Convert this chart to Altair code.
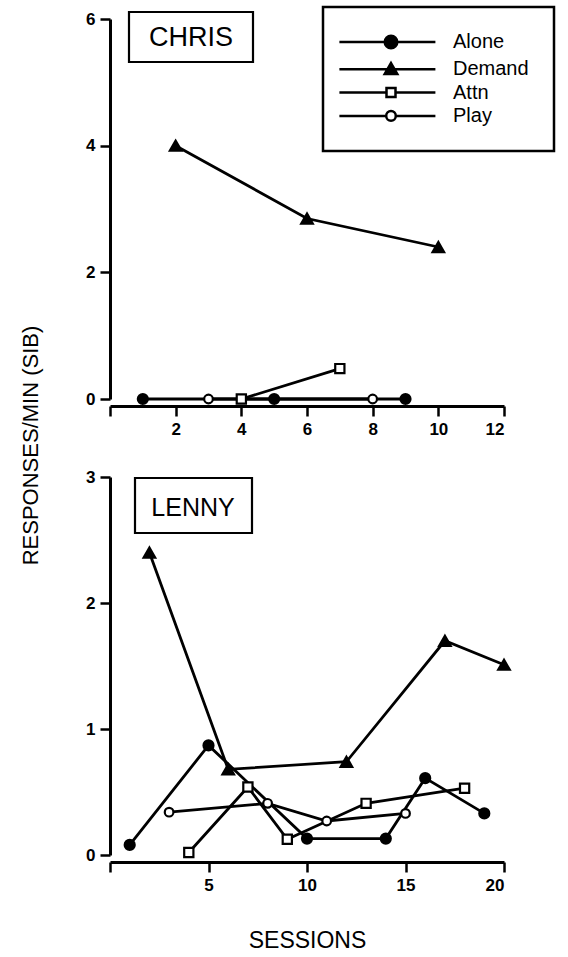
import altair as alt
import pandas as pd

# ---------------- data ----------------
series_names = ["Alone", "Demand", "Attn", "Play"]
participant_names = ["CHRIS", "LENNY"]

chris_alone_sessions = [1, 5, 9]
chris_alone_rates = [0.0, 0.0, 0.0]
chris_demand_sessions = [2, 6, 10]
chris_demand_rates = [4.0, 2.85, 2.4]
chris_attn_sessions = [4, 7]
chris_attn_rates = [0.0, 0.48]
chris_play_sessions = [3, 8]
chris_play_rates = [0.0, 0.0]

lenny_alone_sessions = [1, 5, 10, 14, 16, 19]
lenny_alone_rates = [0.08, 0.87, 0.13, 0.13, 0.61, 0.33]
lenny_demand_sessions = [2, 6, 12, 17, 20]
lenny_demand_rates = [2.4, 0.68, 0.74, 1.70, 1.51]
lenny_attn_sessions = [4, 7, 9, 13, 18]
lenny_attn_rates = [0.02, 0.54, 0.125, 0.41, 0.53]
lenny_play_sessions = [3, 8, 11, 15]
lenny_play_rates = [0.34, 0.41, 0.27, 0.33]

chris_x_ticks = [0, 2, 4, 6, 8, 10, 12]
chris_y_ticks = [0, 2, 4, 6]
lenny_x_ticks = [0, 5, 10, 15, 20]
lenny_y_ticks = [0, 1, 2, 3]

y_title = "RESPONSES/MIN (SIB)"
x_title = "SESSIONS"

# ---------------- styles ----------------
marker_style = {
    "Alone": dict(shape="circle", fill="black", size=100),
    "Demand": dict(shape="triangle-up", fill="black", size=135),
    "Attn": dict(shape="square", fill="white", size=85),
    "Play": dict(shape="circle", fill="white", size=75),
}
# legend symbols: horizontal line with the marker in the middle (unit = 6 px)
legend_paths = [
    "M-8.6,0H7.4M-1.05,0A1.05,1.05 0 1,0 1.05,0A1.05,1.05 0 1,0 -1.05,0Z",
    "M-8.6,0H7.4M0,-1.05L1.05,0.8L-1.05,0.8Z",
    "M-8.6,0H-0.75M0.75,0H7.4M-0.75,-0.75H0.75V0.75H-0.75Z",
    "M-8.6,0H-0.8M0.8,0H7.4M-0.8,0A0.8,0.8 0 1,0 0.8,0A0.8,0.8 0 1,0 -0.8,0Z",
]
legend_fills = ["black", "black", "white", "white"]
legend_strokes = ["black", "black", "black", "black"]


def long_frame(pairs):
    rows = []
    for name, (xs, ys) in zip(series_names, pairs):
        for x, y in zip(xs, ys):
            rows.append({"series": name, "session": x, "rate": y})
    return pd.DataFrame(rows)


chris_df = long_frame([
    (chris_alone_sessions, chris_alone_rates),
    (chris_demand_sessions, chris_demand_rates),
    (chris_attn_sessions, chris_attn_rates),
    (chris_play_sessions, chris_play_rates),
])
lenny_df = long_frame([
    (lenny_alone_sessions, lenny_alone_rates),
    (lenny_demand_sessions, lenny_demand_rates),
    (lenny_attn_sessions, lenny_attn_rates),
    (lenny_play_sessions, lenny_play_rates),
])

W = 394


def panel(df, name, xticks, yticks, height, box, text_xy, name_size, with_legend, bottom):
    xmax = xticks[-1]
    ymax = yticks[-1]
    x_axis = dict(
        values=xticks,
        labelExpr="datum.value == 0 ? '' : datum.label",
        offset=7,
        title=None,
    )
    y_axis = dict(values=yticks, title=None)
    if bottom:
        x_axis.update(
            title=x_title, titleFont="Arial", titleFontSize=23,
            titleFontWeight="normal", titlePadding=36, titleColor="black",
        )
        y_axis.update(
            title=y_title, titleFont="Liberation Sans Narrow, Arial Narrow, Arial",
            titleFontSize=22, titleFontWeight="normal", titleColor="black",
            titleX=-80, titleY=-32, titleAngle=270, titleAlign="center",
            titleBaseline="middle",
        )
    x = alt.X("session:Q", scale=alt.Scale(domain=[0, xmax], nice=False, zero=False),
              axis=alt.Axis(**x_axis))
    y = alt.Y("rate:Q", scale=alt.Scale(domain=[0, ymax], nice=False),
              axis=alt.Axis(**y_axis))

    base = alt.Chart(df)
    layers = [
        base.mark_line(color="black", strokeWidth=2.8).encode(
            x=x, y=y, detail="series:N", order="session:Q")
    ]
    for s in series_names:
        st = marker_style[s]
        layers.append(
            base.transform_filter(alt.datum.series == s).mark_point(
                shape=st["shape"], fill=st["fill"], size=st["size"],
                stroke="black", strokeWidth=2.2, opacity=1, filled=False,
            ).encode(x=x, y=y)
        )
    label_df = pd.DataFrame({"name": [name]})
    layers.append(
        alt.Chart(label_df).mark_rect(fill="white", stroke="black", strokeWidth=2.2).encode(
            x=alt.value(box[0]), x2=alt.value(box[1]),
            y=alt.value(box[2]), y2=alt.value(box[3]))
    )
    layers.append(
        alt.Chart(label_df).mark_text(font="Arial", fontSize=name_size, color="black",
                                      align="center", baseline="middle").encode(
            x=alt.value(text_xy[0]), y=alt.value(text_xy[1]), text="name:N")
    )
    if with_legend:
        leg = alt.Legend(
            title=None, orient="none", legendX=213, legendY=-12,
            padding=25, rowPadding=3.3, symbolSize=144,
            symbolStrokeWidth=2.5, symbolStrokeColor="black",
            symbolOffset=33, labelOffset=52, labelFont="Arial",
            labelFontSize=20, labelColor="black", strokeColor="black",
            symbolOpacity=1, labelLimit=0,
        )
        layers.append(
            base.mark_point(opacity=0, strokeWidth=2.5).encode(
                x=x, y=y,
                shape=alt.Shape("series:N", scale=alt.Scale(domain=series_names, range=legend_paths), legend=leg),
                fill=alt.Fill("series:N", scale=alt.Scale(domain=series_names, range=legend_fills), legend=leg),
                stroke=alt.Stroke("series:N", scale=alt.Scale(domain=series_names, range=legend_strokes), legend=leg),
            )
        )
    return alt.layer(*layers).properties(width=W, height=height)


top = panel(chris_df, participant_names[0], chris_x_ticks, chris_y_ticks, 380,
            (19, 143, -7, 43), (81, 19), 27, True, False)
bottom = panel(lenny_df, participant_names[1], lenny_x_ticks, lenny_y_ticks, 378,
               (25, 142, 1, 56), (83, 31), 25, False, True)

chart = alt.vconcat(top, bottom, spacing=78, bounds="flush").properties(
    padding={"left": 18, "top": 5, "right": 0, "bottom": 0}
).configure_view(stroke=None).configure_axis(
    domainColor="black", domainWidth=3, tickColor="black", tickWidth=2.5,
    tickSize=10, labelFont="Arial", labelFontSize=17, labelFontWeight="bold",
    labelColor="black", labelPadding=5, grid=False,
).configure_legend(strokeWidth=2.5)

chart.save("out.html", embed_options={"renderer": "svg", "actions": False})
